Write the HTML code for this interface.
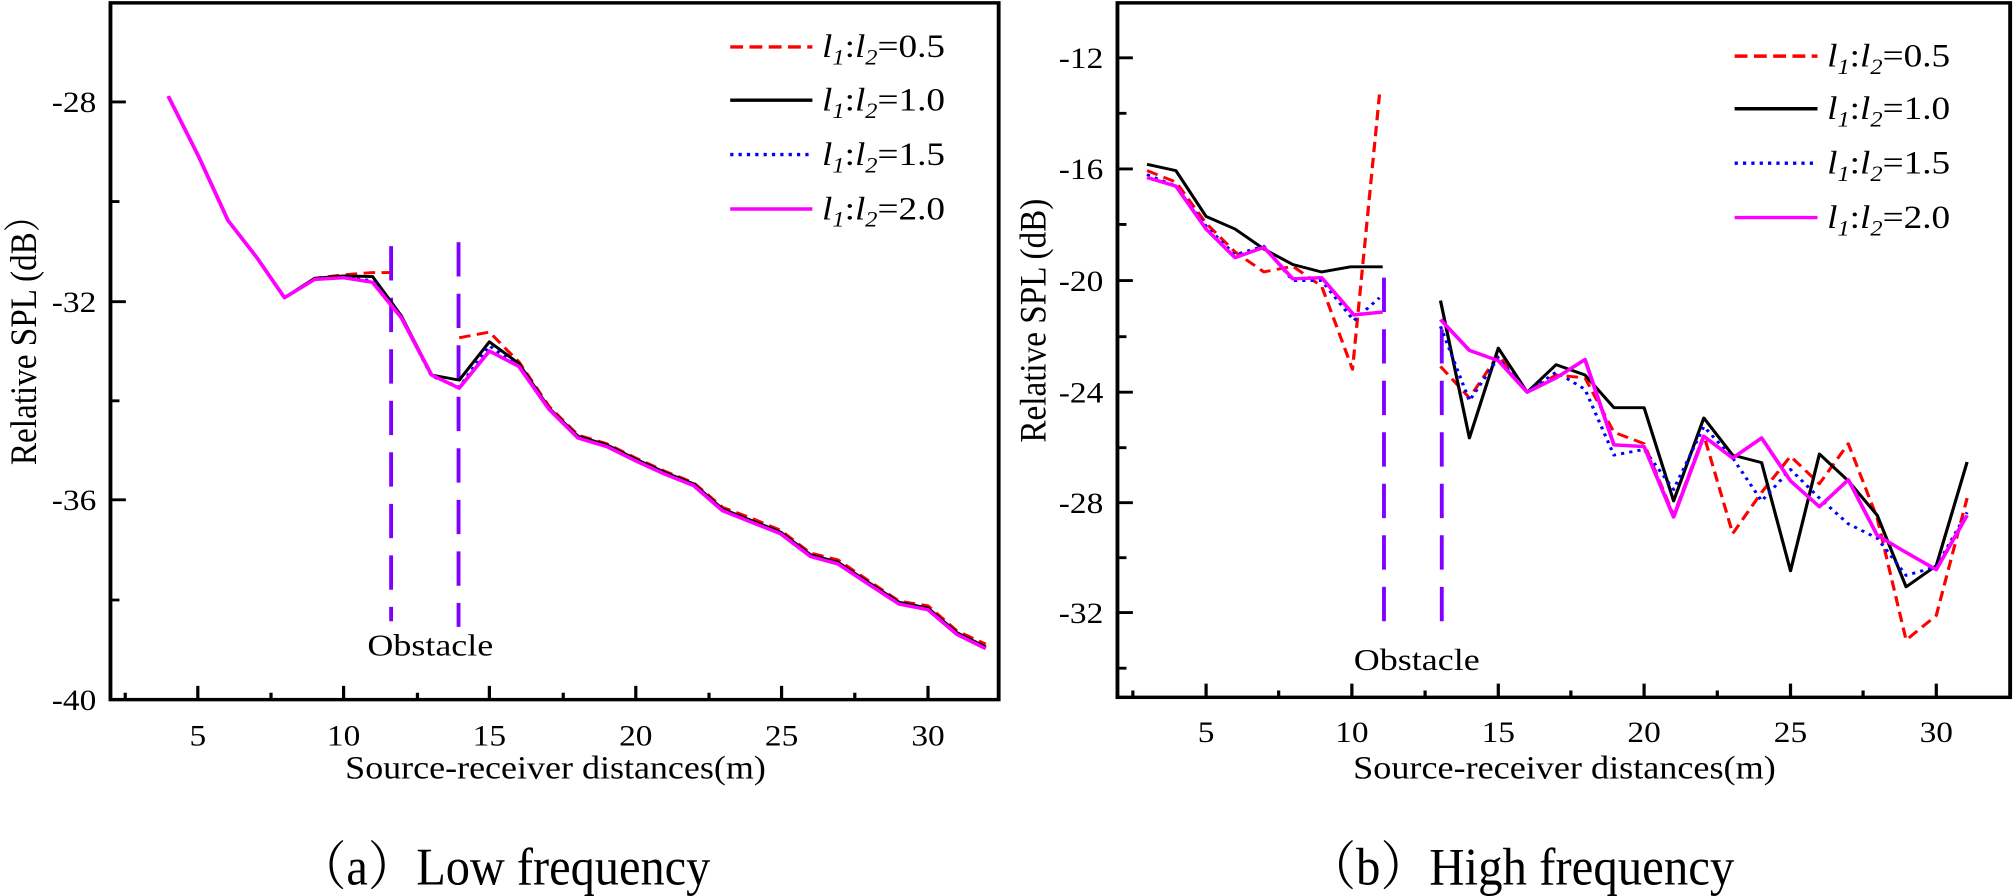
<!DOCTYPE html>
<html><head><meta charset="utf-8"><style>
html,body{margin:0;padding:0;background:#fff;overflow:hidden;}
svg{display:block;}
text{font-family:"Liberation Serif","Noto Serif CJK SC",serif;fill:#000;}
</style></head><body>
<svg width="2014" height="896" viewBox="0 0 3136 1565" preserveAspectRatio="none" xmlns="http://www.w3.org/2000/svg">
<rect width="3136" height="1565" fill="#fff"/>
<!-- LEFT PANEL -->
<g>
<rect x="172" y="5" width="1383" height="1217" fill="none" stroke="#000" stroke-width="6"/>
<g stroke="#000" stroke-width="5">
<path d="M308 1222V1198M535 1222V1198M762 1222V1198M990 1222V1198M1217 1222V1198M1445 1222V1198"/>
<path d="M195 1222V1210M422 1222V1210M650 1222V1210M877 1222V1210M1104 1222V1210M1331 1222V1210"/>
<path d="M172 178H196M172 527H196M172 873H196M172 1222H196"/>
<path d="M172 352H186M172 700H186M172 1048H186"/>
</g>
<g font-size="52" text-anchor="middle">
<text x="308" y="1302">5</text><text x="535" y="1302">10</text><text x="762" y="1302">15</text><text x="990" y="1302">20</text><text x="1217" y="1302">25</text><text x="1445" y="1302">30</text>
</g>
<g font-size="52" text-anchor="end">
<text x="150" y="196">-28</text><text x="150" y="545">-32</text><text x="150" y="891">-36</text><text x="150" y="1240">-40</text>
</g>
<text x="865" y="1360" font-size="58" text-anchor="middle" textLength="655" lengthAdjust="spacingAndGlyphs">Source-receiver distances(m)</text>
<text transform="translate(56 580) rotate(-90)" font-size="58" text-anchor="middle">Relative SPL (dB）</text>
<text x="670" y="1145" font-size="54" text-anchor="middle" textLength="196" lengthAdjust="spacingAndGlyphs">Obstacle</text>
<g stroke="#8000ff" stroke-width="6" stroke-dasharray="60 30" fill="none">
<path d="M609 430V1085"/><path d="M714 423V1095"/>
</g>
<g fill="none" stroke-width="5" stroke-linejoin="round">
<polyline stroke="#ff0000" stroke-dasharray="18 10" points="262,168 310,275 355,385 400,450 443,520 490,486 535,480 580,476 607,476"/>
<polyline stroke="#ff0000" stroke-dasharray="18 10" points="715,590 762,580 790,612 808,632 855,710 900,760 945,775 990,800 1035,823 1080,843 1125,886 1170,905 1215,926 1262,966 1305,978 1352,1014 1400,1050 1445,1058 1490,1102 1535,1125"/>
<polyline stroke="#000" points="262,168 310,275 355,385 400,450 443,520 490,486 535,482 580,483 625,552 672,655 715,664 762,597 808,635 855,713 900,762 945,777 990,802 1035,825 1080,845 1125,889 1170,909 1215,929 1262,969 1305,982 1352,1017 1400,1052 1445,1062 1490,1105 1535,1130"/>
<polyline stroke="#0000ff" stroke-dasharray="5 8" points="262,168 310,275 355,385 400,450 443,520 490,488 535,485 580,490 625,555 672,657 715,676 762,604 808,640 855,715 900,765 945,780 990,805 1035,828 1080,848 1125,892 1170,912 1215,932 1262,972 1305,985 1352,1020 1400,1055 1445,1065 1490,1108 1535,1133"/>
<polyline stroke="#ff00ff" stroke-width="6" points="262,168 310,275 355,385 400,450 443,520 490,488 535,485 580,493 625,555 672,655 715,678 762,613 808,640 855,715 900,765 945,780 990,805 1035,828 1080,848 1125,892 1170,912 1215,932 1262,972 1305,985 1352,1020 1400,1055 1445,1065 1490,1108 1535,1133"/>
</g>
<g stroke-width="6" fill="none">
<path d="M1137 82H1265" stroke="#ff0000" stroke-dasharray="20 10"/>
<path d="M1137 175H1265" stroke="#000"/>
<path d="M1137 270H1265" stroke="#0000ff" stroke-dasharray="5 8"/>
<path d="M1137 365H1265" stroke="#ff00ff"/>
</g>
<g font-size="58">
<text x="1280" y="100"><tspan font-style="italic">l</tspan><tspan font-style="italic" font-size="38" dy="13">1</tspan><tspan dy="-13">:</tspan><tspan font-style="italic">l</tspan><tspan font-style="italic" font-size="38" dy="13">2</tspan><tspan dy="-13">=0.5</tspan></text>
<text x="1280" y="193"><tspan font-style="italic">l</tspan><tspan font-style="italic" font-size="38" dy="13">1</tspan><tspan dy="-13">:</tspan><tspan font-style="italic">l</tspan><tspan font-style="italic" font-size="38" dy="13">2</tspan><tspan dy="-13">=1.0</tspan></text>
<text x="1280" y="288"><tspan font-style="italic">l</tspan><tspan font-style="italic" font-size="38" dy="13">1</tspan><tspan dy="-13">:</tspan><tspan font-style="italic">l</tspan><tspan font-style="italic" font-size="38" dy="13">2</tspan><tspan dy="-13">=1.5</tspan></text>
<text x="1280" y="383"><tspan font-style="italic">l</tspan><tspan font-style="italic" font-size="38" dy="13">1</tspan><tspan dy="-13">:</tspan><tspan font-style="italic">l</tspan><tspan font-style="italic" font-size="38" dy="13">2</tspan><tspan dy="-13">=2.0</tspan></text>
</g>
<text x="785" y="1545" font-size="92" text-anchor="middle" textLength="642" lengthAdjust="spacingAndGlyphs">（a）Low frequency</text>
</g>
<!-- RIGHT PANEL -->
<g transform="translate(1568 0)">
<rect x="172" y="5" width="1390" height="1213" fill="none" stroke="#000" stroke-width="6"/>
<g stroke="#000" stroke-width="5">
<path d="M310 1218V1194M537 1218V1194M765 1218V1194M992 1218V1194M1220 1218V1194M1447 1218V1194"/>
<path d="M196 1218V1206M423 1218V1206M651 1218V1206M878 1218V1206M1106 1218V1206M1333 1218V1206"/>
<path d="M172 101H196M172 295H196M172 490H196M172 685H196M172 878H196M172 1070H196"/>
<path d="M172 198H186M172 392H186M172 588H186M172 782H186M172 974H186M172 1167H186"/>
</g>
<g font-size="52" text-anchor="middle">
<text x="310" y="1296">5</text><text x="537" y="1296">10</text><text x="765" y="1296">15</text><text x="992" y="1296">20</text><text x="1220" y="1296">25</text><text x="1447" y="1296">30</text>
</g>
<g font-size="52" text-anchor="end">
<text x="150" y="119">-12</text><text x="150" y="313">-16</text><text x="150" y="508">-20</text><text x="150" y="703">-24</text><text x="150" y="896">-28</text><text x="150" y="1088">-32</text>
</g>
<text x="868" y="1360" font-size="58" text-anchor="middle" textLength="658" lengthAdjust="spacingAndGlyphs">Source-receiver distances(m)</text>
<text transform="translate(60 560) rotate(-90)" font-size="58" text-anchor="middle">Relative SPL (dB)</text>
<text x="638" y="1170" font-size="54" text-anchor="middle" textLength="196" lengthAdjust="spacingAndGlyphs">Obstacle</text>
<g stroke="#8000ff" stroke-width="6" stroke-dasharray="60 30" fill="none">
<path d="M587 485V1085"/><path d="M677 575V1095"/>
</g>
<g fill="none" stroke-width="5" stroke-linejoin="round">
<polyline stroke="#ff0000" stroke-dasharray="18 10" points="218,298 263,318 310,390 355,440 400,475 445,465 490,500 538,645 580,165"/>
<polyline stroke="#ff0000" stroke-dasharray="18 10" points="675,640 720,695 765,620 810,685 855,655 900,660 945,755 992,775 1038,900 1085,760 1130,932 1175,860 1220,797 1265,845 1310,775 1355,905 1400,1118 1447,1075 1495,870"/>
<polyline stroke="#000" points="218,287 263,298 310,378 355,400 400,435 445,462 490,475 535,466 585,466"/>
<polyline stroke="#000" points="675,525 720,765 765,608 810,685 855,637 900,655 945,712 992,712 1038,875 1085,730 1130,795 1175,808 1220,997 1265,793 1310,840 1355,900 1400,1025 1447,988 1495,807"/>
<polyline stroke="#0000ff" stroke-dasharray="5 8" points="218,305 263,325 310,395 355,445 400,430 445,490 490,490 540,560 580,520"/>
<polyline stroke="#0000ff" stroke-dasharray="5 8" points="675,570 720,700 765,625 810,685 855,650 900,680 945,795 992,785 1038,855 1085,745 1130,800 1175,875 1220,820 1265,870 1310,915 1355,940 1400,1005 1447,990 1495,895"/>
<polyline stroke="#ff00ff" stroke-width="6" points="218,310 263,325 310,400 355,450 400,432 445,487 490,485 540,550 585,545"/>
<polyline stroke="#ff00ff" stroke-width="6" points="675,558 720,612 765,630 810,685 855,660 900,628 945,777 992,780 1038,903 1085,762 1130,800 1175,765 1220,840 1265,885 1310,838 1355,935 1400,965 1447,995 1495,900"/>
</g>
<g stroke-width="6" fill="none">
<path d="M1133 98H1262" stroke="#ff0000" stroke-dasharray="20 10"/>
<path d="M1133 190H1262" stroke="#000"/>
<path d="M1133 285H1262" stroke="#0000ff" stroke-dasharray="5 8"/>
<path d="M1133 380H1262" stroke="#ff00ff"/>
</g>
<g font-size="58">
<text x="1277" y="116"><tspan font-style="italic">l</tspan><tspan font-style="italic" font-size="38" dy="13">1</tspan><tspan dy="-13">:</tspan><tspan font-style="italic">l</tspan><tspan font-style="italic" font-size="38" dy="13">2</tspan><tspan dy="-13">=0.5</tspan></text>
<text x="1277" y="208"><tspan font-style="italic">l</tspan><tspan font-style="italic" font-size="38" dy="13">1</tspan><tspan dy="-13">:</tspan><tspan font-style="italic">l</tspan><tspan font-style="italic" font-size="38" dy="13">2</tspan><tspan dy="-13">=1.0</tspan></text>
<text x="1277" y="303"><tspan font-style="italic">l</tspan><tspan font-style="italic" font-size="38" dy="13">1</tspan><tspan dy="-13">:</tspan><tspan font-style="italic">l</tspan><tspan font-style="italic" font-size="38" dy="13">2</tspan><tspan dy="-13">=1.5</tspan></text>
<text x="1277" y="398"><tspan font-style="italic">l</tspan><tspan font-style="italic" font-size="38" dy="13">1</tspan><tspan dy="-13">:</tspan><tspan font-style="italic">l</tspan><tspan font-style="italic" font-size="38" dy="13">2</tspan><tspan dy="-13">=2.0</tspan></text>
</g>
<text x="800" y="1545" font-size="92" text-anchor="middle" textLength="665" lengthAdjust="spacingAndGlyphs">（b）High frequency</text>
</g>
</svg>
</body></html>
